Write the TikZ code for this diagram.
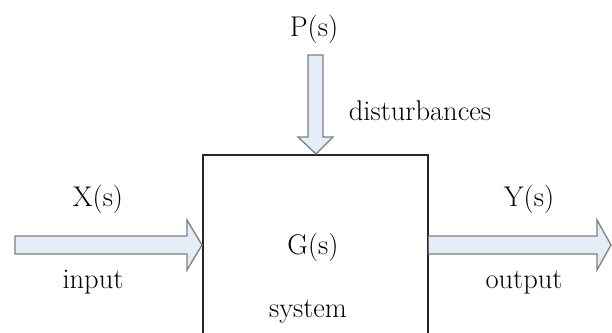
\documentclass[tikz,border=0pt]{standalone}
\definecolor{arrowfill}{RGB}{228,236,247}
\begin{document}
\begin{tikzpicture}[x=1pt,y=-1pt,
  fatarrow/.style={draw=black!50, line width=1.3pt, fill=arrowfill, line join=miter},
  lbl/.style={anchor=base, inner sep=0pt, font=\fontsize{28.5}{32}\selectfont},
  sysbox/.style={draw=black!85, line width=1.5pt, minimum width=225pt, minimum height=200pt, inner sep=0pt}]
\useasboundingbox (0,0) rectangle (612,332);
\clip (0,0) rectangle (612,332);
% system box (bottom edge lies below the picture)
\node[sysbox, anchor=north west] (sys) at (202,154) {};
% input arrow
\draw[fatarrow] (15,236) -- (187,236) -- (187,220) -- (sys.west |- 0,245) -- (187,270) -- (187,254) -- (15,254) -- cycle;
% output arrow
\draw[fatarrow] (sys.east |- 0,236) -- (597,236) -- (597,220) -- (611,245) -- (597,270) -- (597,254) -- (sys.east |- 0,254);
% disturbance arrow
\draw[fatarrow] (308,55) -- (323,55) -- (323,137) -- (333,137) -- (sys.north -| 316,0) -- (298,137) -- (308,137) -- cycle;
% labels
\node[lbl] (P) at (314,36) {P(s)};
\node[lbl] (dist) at (420,120) {disturbances};
\node[lbl] (X) at (98,206) {X(s)};
\node[lbl] (in) at (93,288) {input};
\node[lbl] (Y) at (529,206) {Y(s)};
\node[lbl] (out) at (524,288) {output};
\node[lbl] (G) at (313,254) {G(s)};
\node[lbl] (s) at (308,317) {system};
\end{tikzpicture}
\end{document}
